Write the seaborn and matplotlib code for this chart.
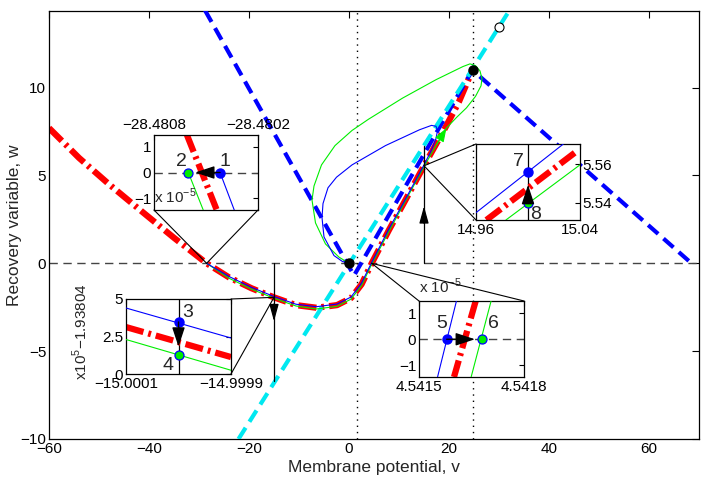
import matplotlib
matplotlib.use('Agg')
import matplotlib.pyplot as plt
from matplotlib.patches import ConnectionPatch
import seaborn as sns

# ---- main panel data ----
red_v = [-60, -54, -48, -41, -35, -28.48, -24, -19.5, -15, -10.6, -6.5, -2.4, 0.4, 2.5, 4.54,
         8, 11, 15, 19.3, 22, 24.7]
red_w = [7.7, 6.0, 4.5, 2.85, 1.45, 0, -0.8, -1.42, -1.938, -2.38, -2.53, -2.38, -1.98, -1.2, 0,
         1.9, 3.45, 5.55, 7.74, 9.2, 11.0]

green_v = [-28.48, -24, -19.5, -15, -10.6, -6.5, -2.4, 0.4, 2.5, 4.54, 8, 11, 15, 17.5, 19.5,
           21.5, 23.5, 25.3, 26.4, 26.6, 26.2, 25.3, 24.2, 22.8, 17.4, 10.7, 3.9, 0.6, -2.8,
           -5.5, -7.0, -7.4, -6.7, -4.7, -2.0, 0]
green_w = [0, -0.85, -1.47, -1.99, -2.43, -2.6, -2.45, -2.04, -1.27, -0.05, 1.83, 3.4, 5.5,
           6.75, 7.7, 8.3, 8.85, 9.5, 10.1, 10.5, 10.95, 11.25, 11.35, 11.2, 10.45, 9.4, 8.2,
           7.56, 6.7, 5.6, 4.4, 3.6, 2.3, 1.1, 0.35, 0]

blue_v = [-28.48, -24, -19.5, -15, -10.6, -6.5, -2.4, 0.4, 2.5, 4.54, 8, 11, 15, 16.5, 17.4,
          17.7, 17.4, 16.5, 14.1, 7.3, 0.6, -2.5, -4.2, -5.2, -5.4, -5.0, -3.0, -1.3, 0]
blue_w = [0, -0.75, -1.37, -1.89, -2.33, -2.47, -2.32, -1.92, -1.13, 0.05, 1.97, 3.5, 5.6,
          6.45, 7.1, 7.55, 7.8, 7.85, 7.6, 6.7, 5.6, 4.9, 4.3, 3.4, 2.6, 1.5, 0.44, 0.1, 0]

bdash_v = [-28.8, 1.0, 24.7, 68.5]
bdash_w = [14.4, -0.7, 11.0, 0]

cyan_v = [-22.1, 32.1]
cyan_w = [-10, 14.4]

eq_v = [0, 24.7]
eq_w = [0, 11.0]
open_v = [30.0]
open_w = [13.45]
dotted_v = [1.6, 24.8]
sect_v = [-15, 15]
sect_w = [-6.7, 6.7]
sect_arrow_w = [-3.3, 3.25]

xticks = [-60, -40, -20, 0, 20, 40, 60]
yticks = [-10, -5, 0, 5, 10]

# ---- inset data ----
# inset 1: v near -28.48, w in units of 1e-5
in1_red_v = [-28.480610, -28.480438]
in1_red_w = [1.47, -1.47]
in1_green_v = [-28.480602, -28.480516]
in1_green_w = [0, -1.47]
in1_blue_v = [-28.480419, -28.480337]
in1_blue_w = [0, -1.47]
in1_pts_v = [-28.480419, -28.480602]   # 1 (blue), 2 (green)

# inset 2: v near -15, (w + 1.93804) * 1e5
in2_red_v = [-15.0001, -14.9999]
in2_red_w = [3.13, 1.13]
in2_green_v = [-15.0001, -14.9999]
in2_green_w = [2.3, 0.25]
in2_blue_v = [-15.0001, -14.9999]
in2_blue_w = [4.4, 2.4]
in2_pts_w = [3.47, 1.3]                # 3 (blue), 4 (green)

# inset 3: v near 4.5415, w in units of 1e-5
in3_red_v = [4.541662, 4.541600]
in3_red_w = [1.47, -1.45]
in3_green_v = [4.541706, 4.541649]
in3_green_w = [1.47, -1.45]
in3_blue_v = [4.541607, 4.541553]
in3_blue_w = [1.47, -1.45]
in3_pts_v = [4.541579, 4.541679]       # 5 (blue), 6 (green)

# inset 4: v near 15
in4_red_v = [14.968, 15.0374]
in4_red_w = [5.531, 5.5666]
in4_green_v = [14.983, 15.04]
in4_green_w = [5.531, 5.5596]
in4_blue_v = [14.96, 15.0272]
in4_blue_w = [5.5348, 5.5704]
in4_pts_w = [5.5561, 5.5397]           # 7 (blue), 8 (green)

sns.set_style("white")
plt.rcParams['font.family'] = ['Liberation Sans', 'DejaVu Sans']
plt.rcParams['mathtext.fontset'] = 'custom'
plt.rcParams['mathtext.rm'] = 'Liberation Sans'

RED_LS = (0, (2.9, 0.8, 0.45, 0.8))
GREEN = '#00ee00'
W, H = 706, 482
fig = plt.figure(figsize=(7.06, 4.82), dpi=100)


def px_axes(x0, y0, x1, y1):
    return fig.add_axes([x0 / W, 1 - y1 / H, (x1 - x0) / W, (y1 - y0) / H])


def frame(a, length):
    a.tick_params(direction='in', top=True, right=True, length=length, width=0.8,
                  labelsize=11, colors='k', pad=2)
    for s in a.spines.values():
        s.set_visible(True)
        s.set_color('k')
        s.set_linewidth(0.9)


ax = px_axes(49, 11, 699, 439)
ax.axhline(0, color='#444444', lw=1.0, linestyle=(0, (6, 4)), zorder=1)
for v in dotted_v:
    ax.axvline(v, color='k', lw=1.0, linestyle=(0, (1, 3.5)), zorder=1)

sns.lineplot(x=red_v, y=red_w, sort=False, estimator=None, ax=ax, color='red', lw=4.5,
             linestyle=RED_LS, zorder=2)
ax.plot(bdash_v, bdash_w, color='#0000ff', lw=3, linestyle=(0, (3.2, 1.7)), zorder=3)
ax.plot(cyan_v, cyan_w, color='#00e8f0', lw=3, linestyle=(0, (3.2, 1.7)), zorder=3.5)
sns.lineplot(x=green_v, y=green_w, sort=False, estimator=None, ax=ax, color=GREEN, lw=0.8,
             zorder=4)
sns.lineplot(x=blue_v, y=blue_w, sort=False, estimator=None, ax=ax, color='#0000ff', lw=0.8,
             zorder=4)
ax.annotate('', xy=(green_v[14], green_w[14]), xytext=(green_v[13], green_w[13]),
            arrowprops=dict(arrowstyle='-|>,head_length=0.7,head_width=0.25', color=GREEN,
                            lw=0.8, shrinkA=0, shrinkB=0, mutation_scale=12), zorder=5)

for v, w_end, w_tip in zip(sect_v, sect_w, sect_arrow_w):
    ax.plot([v, v], [0, w_end], color='k', lw=0.9, zorder=4)
    ax.annotate('', xy=(v, w_tip), xytext=(v, w_tip * 0.7),
                arrowprops=dict(arrowstyle='-|>,head_length=0.8,head_width=0.22', color='k',
                                lw=0.9, shrinkA=0, shrinkB=0, mutation_scale=13), zorder=5)

ax.plot(eq_v, eq_w, 'o', color='k', ms=6.5, zorder=6)
ax.plot(open_v, open_w, 'o', mfc='white', mec='k', mew=0.8, ms=6.5, zorder=6)

ax.set_xlim(-60, 70)
ax.set_ylim(-10, 14.36)
ax.set_xticks(xticks)
ax.set_yticks(yticks)
frame(ax, 5)
ax.set_xlabel('Membrane potential, v', fontsize=12.5, labelpad=3)
ax.set_ylabel('Recovery variable, w', fontsize=12.5)
ax.yaxis.set_label_coords(-0.041, 0.5)


def traj_inset(a, rv, rw, gv, gw, bv, bw):
    a.plot(rv, rw, color='red', lw=4.5, linestyle=RED_LS, zorder=2)
    a.plot(gv, gw, color=GREEN, lw=0.8, zorder=3)
    a.plot(bv, bw, color='#0000ff', lw=0.8, zorder=3)


def pts(a, xs, ys):
    a.plot(xs[0], ys[0], 'o', color='#0000ff', ms=6.5, zorder=5)
    a.plot(xs[1], ys[1], 'o', mfc=GREEN, mec='#0000ff', mew=0.9, ms=6.5, zorder=5)


def arrow(a, tail, tip):
    a.annotate('', xy=tip, xytext=tail,
               arrowprops=dict(arrowstyle='-|>,head_length=0.85,head_width=0.28', color='k',
                               lw=1.0, shrinkA=0, shrinkB=0, mutation_scale=14), zorder=6)


def connect(a, corners, point):
    for c in corners:
        fig.add_artist(ConnectionPatch(xyA=c, coordsA=a.transAxes, xyB=point,
                                       coordsB=ax.transData, color='k', lw=0.8))


# inset 1
a1 = px_axes(154, 135, 258, 210)
a1.axhline(0, color='#444444', lw=1.0, linestyle=(0, (6, 4)), zorder=1)
traj_inset(a1, in1_red_v, in1_red_w, in1_green_v, in1_green_w, in1_blue_v, in1_blue_w)
pts(a1, in1_pts_v, [0, 0])
arrow(a1, (in1_pts_v[0], 0), (-28.480563, 0))
a1.set_xlim(-28.4808, -28.4802)
a1.set_ylim(-1.47, 1.47)
a1.set_xticks([-28.4808, -28.4802])
a1.set_xticklabels(['\u221228.4808', '\u221228.4802'])
a1.set_yticks([-1, 0, 1])
a1.set_yticklabels(['\u22121', '0', '1'])
frame(a1, 3.5)
a1.tick_params(labeltop=True, labelbottom=False)
a1.text(-28.480390, 0.42, '1', fontsize=14, ha='center', va='center')
a1.text(-28.480640, 0.42, '2', fontsize=14, ha='center', va='center')
a1.text(0.0, 0.1, 'x 10$^{\u22125}$', transform=a1.transAxes, fontsize=11, ha='left',
        va='baseline')
connect(a1, [(0, 0), (1, 0)], (-28.48, 0))

# inset 2
a2 = px_axes(126, 299, 231, 374)
traj_inset(a2, in2_red_v, in2_red_w, in2_green_v, in2_green_w, in2_blue_v, in2_blue_w)
a2.axvline(-15.0, color='k', lw=0.9, zorder=1)
pts(a2, [-15.0, -15.0], in2_pts_w)
arrow(a2, (-15.0, in2_pts_w[0]), (-15.0, 1.82))
a2.set_xlim(-15.0001, -14.9999)
a2.set_ylim(0, 5)
a2.set_xticks([-15.0001, -14.9999])
a2.set_xticklabels(['\u221215.0001', '\u221214.9999'])
a2.set_yticks([0, 2.5, 5])
a2.set_yticklabels(['0', '2.5', '5'])
frame(a2, 3.5)
a2.set_ylabel('x10$^5$\u22121.93804', fontsize=11)
a2.yaxis.set_label_coords(-0.34, 0.57)
a2.text(-14.999982, 4.13, '3', fontsize=14, ha='center', va='center')
a2.text(-15.00002, 0.55, '4', fontsize=14, ha='center', va='center')
connect(a2, [(1, 1), (1, 0)], (-15, -1.938))

# inset 3
a3 = px_axes(419, 301, 524, 377)
a3.axhline(0, color='#444444', lw=1.0, linestyle=(0, (6, 4)), zorder=1)
traj_inset(a3, in3_red_v, in3_red_w, in3_green_v, in3_green_w, in3_blue_v, in3_blue_w)
pts(a3, in3_pts_v, [0, 0])
arrow(a3, (in3_pts_v[0], 0), (4.541660, 0))
a3.set_xlim(4.5415, 4.5418)
a3.set_ylim(-1.45, 1.47)
a3.set_xticks([4.5415, 4.5418])
a3.set_xticklabels(['4.5415', '4.5418'])
a3.set_yticks([-1, 0, 1])
a3.set_yticklabels(['\u22121', '0', '1'])
frame(a3, 3.5)
a3.text(4.541565, 0.62, '5', fontsize=14, ha='center', va='center')
a3.text(4.541714, 0.62, '6', fontsize=14, ha='center', va='center')
a3.text(0.0, 1.1, 'x 10$^{\u22125}$', transform=a3.transAxes, fontsize=11, ha='left',
        va='baseline')
connect(a3, [(0, 1), (1, 1)], (4.5415, 0))

# inset 4
a4 = px_axes(476, 144, 580, 220)
traj_inset(a4, in4_red_v, in4_red_w, in4_green_v, in4_green_w, in4_blue_v, in4_blue_w)
a4.axvline(15.0, color='k', lw=0.9, zorder=1)
pts(a4, [15.0, 15.0], in4_pts_w)
arrow(a4, (15.0, in4_pts_w[1]), (15.0, 5.5492))
a4.set_xlim(14.96, 15.04)
a4.set_ylim(5.531, 5.5704)
a4.set_xticks([14.96, 15.04])
a4.set_xticklabels(['14.96', '15.04'])
a4.set_yticks([5.54, 5.56])
a4.set_yticklabels(['5.54', '5.56'])
frame(a4, 3.5)
a4.tick_params(labelleft=False, labelright=True)
a4.text(14.9925, 5.5614, '7', fontsize=14, ha='center', va='center')
a4.text(15.0058, 5.5336, '8', fontsize=14, ha='center', va='center')
connect(a4, [(0, 1), (0, 0)], (15, 5.55))

fig.savefig('out.png', dpi=100)
